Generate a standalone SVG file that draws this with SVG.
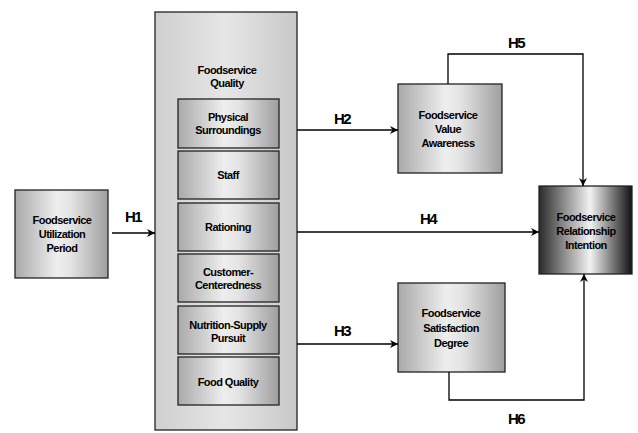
<svg xmlns="http://www.w3.org/2000/svg" width="638" height="433" viewBox="0 0 638 433">
<defs>
<linearGradient id="gOuter" x1="0" y1="0" x2="1" y2="0">
<stop offset="0" stop-color="#cfcfcf"/><stop offset="0.5" stop-color="#e6e6e6"/><stop offset="1" stop-color="#c8c8c8"/>
</linearGradient>
<linearGradient id="gBox" x1="0" y1="0" x2="1" y2="0">
<stop offset="0" stop-color="#a9a9a9"/><stop offset="0.45" stop-color="#eeeeee"/><stop offset="0.6" stop-color="#e4e4e4"/><stop offset="1" stop-color="#9e9e9e"/>
</linearGradient>
<linearGradient id="gDark" x1="0" y1="0" x2="1" y2="0">
<stop offset="0" stop-color="#2a2a2a"/><stop offset="0.55" stop-color="#f2f2f2"/><stop offset="1" stop-color="#111111"/>
</linearGradient>
<marker id="arr" viewBox="0 0 10 10" refX="10" refY="5" markerWidth="8" markerHeight="8" orient="auto" markerUnits="userSpaceOnUse">
<path d="M0,0 L10,5 L0,10 L3,5 Z" fill="#000"/>
</marker>
</defs>
<style>
.box{stroke:#222;stroke-width:1.3}
.t{font-family:"Liberation Sans",Arial,sans-serif;font-weight:bold;font-size:11px;letter-spacing:-0.55px;text-anchor:middle;fill:#000}
.h{font-family:"Liberation Sans",Arial,sans-serif;font-weight:bold;font-size:15px;letter-spacing:-1.5px;text-anchor:middle;fill:#000}
.c{fill:none;stroke:#000;stroke-width:1.3}
</style>
<rect width="638" height="433" fill="#fff"/>

<g id="quality">
<rect class="box" x="155" y="12" width="142" height="418" fill="url(#gOuter)"/>
<text class="t" x="227" y="74">Foodservice</text>
<text class="t" x="227" y="87">Quality</text>
</g>
<g id="physical">
<rect class="box" x="178" y="99" width="101" height="49" fill="url(#gBox)"/>
<text class="t" x="228" y="121">Physical</text>
<text class="t" x="228" y="134">Surroundings</text>
</g>
<g id="staff">
<rect class="box" x="178" y="151" width="101" height="48" fill="url(#gBox)"/>
<text class="t" x="228" y="179">Staff</text>
</g>
<g id="rationing">
<rect class="box" x="178" y="203" width="101" height="48" fill="url(#gBox)"/>
<text class="t" x="228" y="231">Rationing</text>
</g>
<g id="customer">
<rect class="box" x="178" y="254" width="101" height="48" fill="url(#gBox)"/>
<text class="t" x="228" y="276">Customer-</text>
<text class="t" x="228" y="289">Centeredness</text>
</g>
<g id="nutrition">
<rect class="box" x="178" y="306" width="101" height="48" fill="url(#gBox)"/>
<text class="t" x="228" y="329">Nutrition-Supply</text>
<text class="t" x="228" y="342">Pursuit</text>
</g>
<g id="food">
<rect class="box" x="178" y="357" width="101" height="48" fill="url(#gBox)"/>
<text class="t" x="228" y="386">Food Quality</text>
</g>

<g id="utilization">
<rect class="box" x="15" y="190" width="93" height="88" fill="url(#gBox)"/>
<text class="t" x="62" y="224">Foodservice</text>
<text class="t" x="62" y="238">Utilization</text>
<text class="t" x="62" y="252">Period</text>
</g>
<g id="value">
<rect class="box" x="398" y="84" width="104" height="89" fill="url(#gBox)"/>
<text class="t" x="448" y="119">Foodservice</text>
<text class="t" x="448" y="133">Value</text>
<text class="t" x="448" y="147">Awareness</text>
</g>
<g id="satisfaction">
<rect class="box" x="398" y="283" width="107" height="89" fill="url(#gBox)"/>
<text class="t" x="451" y="317">Foodservice</text>
<text class="t" x="451" y="332">Satisfaction</text>
<text class="t" x="451" y="347">Degree</text>
</g>
<g id="relationship">
<rect class="box" x="539" y="186" width="93" height="88" fill="url(#gDark)"/>
<text class="t" x="586" y="221">Foodservice</text>
<text class="t" x="586" y="235">Relationship</text>
<text class="t" x="586" y="249">Intention</text>
</g>

<g id="connectors">
<line class="c" x1="112" y1="233" x2="155" y2="233" marker-end="url(#arr)"/>
<line class="c" x1="297" y1="130" x2="398" y2="130" marker-end="url(#arr)"/>
<line class="c" x1="297" y1="232" x2="539" y2="232" marker-end="url(#arr)"/>
<line class="c" x1="297" y1="344" x2="398" y2="344" marker-end="url(#arr)"/>
<polyline class="c" points="448,84 448,54 583,54 583,186" marker-end="url(#arr)"/>
<polyline class="c" points="449,372 449,400 584,400 584,274" marker-end="url(#arr)"/>
<text class="h" x="133" y="222">H1</text>
<text class="h" x="342" y="124">H2</text>
<text class="h" x="342" y="336">H3</text>
<text class="h" x="428" y="224">H4</text>
<text class="h" x="516" y="48">H5</text>
<text class="h" x="516" y="424">H6</text>
</g>
</svg>
